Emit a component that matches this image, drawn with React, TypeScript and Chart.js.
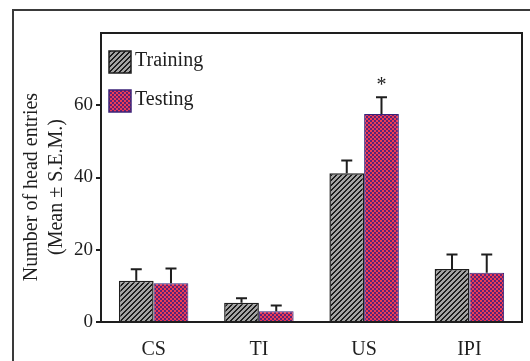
import React, { useEffect, useRef } from 'react';
import { Chart, registerables } from 'chart.js';

Chart.register(...registerables);

// Head entries per trial period (mean ± S.E.M.)
const categories = ['CS', 'TI', 'US', 'IPI'];
const seriesNames = ['Training', 'Testing'];
const trainingMeans = [11.4, 5.3, 41.2, 14.7];
const trainingSem = [3.2, 1.3, 3.5, 4.0];
const testingMeans = [10.7, 3.0, 57.6, 13.6];
const testingSem = [4.1, 1.6, 4.6, 5.1];
const significantTesting = [false, false, true, false];
const yTicks = [0, 20, 40, 60];
const yMax = 80;
const yTitleLines = ['Number of head entries', '(Mean \u00B1 S.E.M.)'];

const SERIF = '"Liberation Serif", "Times New Roman", Times, serif';
const INK = '#1e1e1e';
const HATCH_BG = '#a3a3a3';
const HATCH_LINE = '#1c1c1c';
const CHECK_RED = '#f03b55';
const CHECK_DARK = '#5a2478';
const TESTING_EDGE = '#3c2378';

function makePattern(size: number, paint: (x: number, y: number) => string): CanvasPattern {
  const c = document.createElement('canvas');
  c.width = size;
  c.height = size;
  const g = c.getContext('2d')!;
  for (let y = 0; y < size; y++) {
    for (let x = 0; x < size; x++) {
      g.fillStyle = paint(x, y);
      g.fillRect(x, y, 1, 1);
    }
  }
  return g.createPattern(c, 'repeat')!;
}

// "////" hatching on grey, and a fine red/purple checkerboard
const hatch = () => makePattern(5, (x, y) => ((x + y) % 5 < 2 ? HATCH_LINE : HATCH_BG));
const checker = () =>
  makePattern(4, (x, y) => (((x >> 1) + (y >> 1)) % 2 === 0 ? CHECK_RED : CHECK_DARK));

const decorPlugin = {
  id: 'figureDecor',
  beforeDraw(chart: any) {
    const ctx = chart.ctx;
    ctx.save();
    // outer figure frame
    ctx.strokeStyle = '#3a3a3a';
    ctx.lineWidth = 2;
    ctx.beginPath();
    ctx.moveTo(13, chart.height);
    ctx.lineTo(13, 10);
    ctx.lineTo(chart.width, 10);
    ctx.stroke();
    ctx.restore();
  },
  afterDatasetsDraw(chart: any) {
    const ctx = chart.ctx;
    const area = chart.chartArea;
    const yScale = chart.scales.y;
    ctx.save();

    // error bars (upper half) and significance marker
    const sems = [trainingSem, testingSem];
    const means = [trainingMeans, testingMeans];
    ctx.strokeStyle = INK;
    ctx.lineWidth = 2;
    for (let d = 0; d < 2; d++) {
      const meta = chart.getDatasetMeta(d);
      meta.data.forEach((bar: any, i: number) => {
        const top = yScale.getPixelForValue(means[d][i] + sems[d][i]);
        const base = yScale.getPixelForValue(means[d][i]);
        ctx.beginPath();
        ctx.moveTo(bar.x, base);
        ctx.lineTo(bar.x, top);
        ctx.moveTo(bar.x - 5.5, top);
        ctx.lineTo(bar.x + 5.5, top);
        ctx.stroke();
        if (d === 1 && significantTesting[i]) {
          ctx.fillStyle = INK;
          ctx.font = `20px ${SERIF}`;
          ctx.textAlign = 'center';
          ctx.textBaseline = 'alphabetic';
          ctx.fillText('*', bar.x, top - 6);
        }
      });
    }

    // plot frame (top and right edges)
    ctx.strokeStyle = INK;
    ctx.lineWidth = 2;
    ctx.strokeRect(area.left, area.top, area.right - area.left, area.bottom - area.top);

    // legend inside the plot
    const fills = [chart.data.datasets[0].backgroundColor, chart.data.datasets[1].backgroundColor];
    const edges = [INK, TESTING_EDGE];
    const rows = [51, 90];
    ctx.font = `20px ${SERIF}`;
    ctx.textAlign = 'left';
    ctx.textBaseline = 'alphabetic';
    seriesNames.forEach((name, k) => {
      const y = rows[k];
      ctx.fillStyle = fills[k];
      ctx.fillRect(109, y, 22, 22);
      ctx.strokeStyle = edges[k];
      ctx.lineWidth = 1.5;
      ctx.strokeRect(109, y, 22, 22);
      ctx.fillStyle = INK;
      ctx.fillText(name, 135, y + 15);
    });

    // y-axis title, two rotated lines
    ctx.fillStyle = INK;
    ctx.font = `20px ${SERIF}`;
    ctx.textAlign = 'center';
    ctx.textBaseline = 'middle';
    const cy = 187;
    [32, 57].forEach((x, k) => {
      ctx.save();
      ctx.translate(x, cy);
      ctx.rotate(-Math.PI / 2);
      ctx.fillText(yTitleLines[k], 0, 0);
      ctx.restore();
    });

    ctx.restore();
  },
};

export default function App() {
  const ref = useRef<HTMLCanvasElement | null>(null);

  useEffect(() => {
    if (!ref.current) return;
    const chart = new Chart(ref.current, {
      type: 'bar',
      data: {
        labels: categories,
        datasets: [
          {
            label: seriesNames[0],
            data: trainingMeans,
            backgroundColor: hatch() as any,
            borderColor: INK,
            borderWidth: 1.5,
            barPercentage: 1,
            categoryPercentage: 0.66,
          },
          {
            label: seriesNames[1],
            data: testingMeans,
            backgroundColor: checker() as any,
            borderColor: TESTING_EDGE,
            borderWidth: 1,
            barPercentage: 1,
            categoryPercentage: 0.66,
          },
        ],
      },
      options: {
        responsive: false,
        devicePixelRatio: 1,
        animation: false,
        layout: { padding: { top: 33, right: 8, left: 0, bottom: 0 } },
        plugins: {
          legend: { display: false },
          tooltip: { enabled: false },
        },
        scales: {
          x: {
            grid: { display: false },
            border: { display: true, color: INK, width: 2 },
            ticks: { color: INK, font: { family: SERIF, size: 20 }, padding: 8 },
            afterFit: (s: any) => {
              s.height = 39;
            },
          },
          y: {
            min: 0,
            max: yMax,
            afterBuildTicks: (s: any) => {
              s.ticks = yTicks.map((v) => ({ value: v }));
            },
            grid: {
              display: true,
              drawOnChartArea: false,
              drawTicks: true,
              tickLength: 5,
              color: INK,
              lineWidth: 2,
            },
            border: { display: true, color: INK, width: 2 },
            ticks: { color: INK, font: { family: SERIF, size: 19 }, padding: 3 },
            afterFit: (s: any) => {
              s.width = 101;
            },
          },
        },
      },
      plugins: [decorPlugin],
    });
    return () => chart.destroy();
  }, []);

  return (
    <div style={{ position: 'fixed', left: 0, top: 0, width: 530, height: 361, background: '#fff' }}>
      <canvas ref={ref} width={530} height={361} style={{ display: 'block' }} />
    </div>
  );
}
